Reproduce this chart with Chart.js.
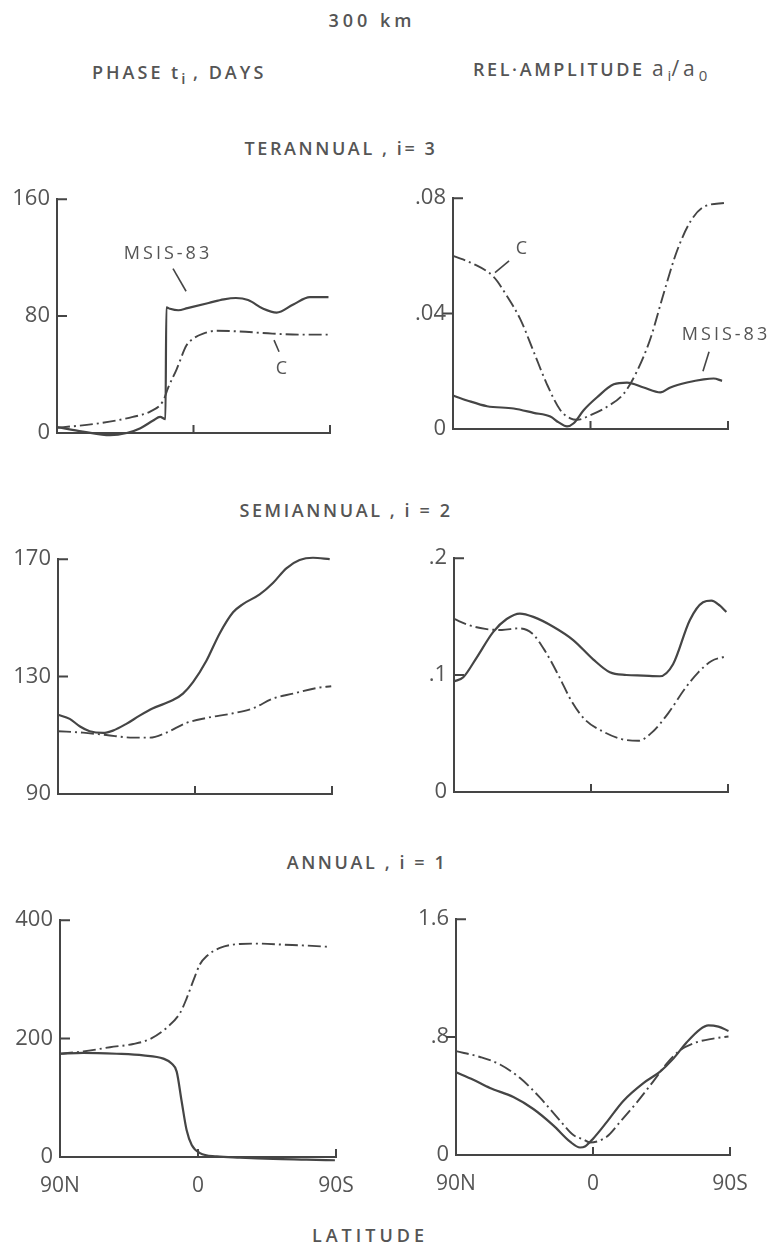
<!DOCTYPE html>
<html>
<head>
<meta charset="utf-8">
<script src="https://cdn.jsdelivr.net/npm/chart.js@4.4.0/dist/chart.umd.min.js"></script>
<style>
body{margin:0;background:#fff;width:770px;height:1250px;position:relative;overflow:hidden;font-family:"Open Sans",sans-serif;color:#555}
.t{position:absolute;font-size:18px;font-weight:600;letter-spacing:2.6px;white-space:nowrap;line-height:20px}
.c{width:400px;text-align:center}
.a{font-size:21px;font-weight:400;letter-spacing:4px}
sub{font-size:15px;letter-spacing:0}
canvas{position:absolute}
</style>
</head>
<body>
<div class="t c" style="left:172px;top:10px;letter-spacing:4px">300 km</div>
<div class="t" style="left:92px;top:62px;letter-spacing:3px">PHASE t<sub>i</sub> , DAYS</div>
<div class="t" style="left:473px;top:58px">REL·AMPLITUDE <span class="a">a<sub>i</sub>/a<sub>0</sub></span></div>
<div class="t c" style="left:141px;top:138px">TERANNUAL , i= 3</div>
<div class="t c" style="left:146px;top:500px">SEMIANNUAL , i = 2</div>
<div class="t c" style="left:167px;top:852px">ANNUAL , i = 1</div>
<div class="t c" style="left:170px;top:1225px;letter-spacing:4px">LATITUDE</div>
<canvas id="p1"></canvas><canvas id="p2"></canvas>
<canvas id="p3"></canvas><canvas id="p4"></canvas>
<canvas id="p5"></canvas><canvas id="p6"></canvas>
<script>
// latitude ticks, 90N left -> 90S right
const latTicks = [90, 0, -90]

// terannual phase (days)
const terPhaseMsisLat = [90, 73, 55, 44, 35, 26.6, 22, 18.5, 17.9, 15.5, 10, 4, -10, -20, -28, -36, -46, -54.8, -65.8, -76.8, -89]
const terPhaseMsis = [4, 1, -1.5, 0, 3.3, 8.5, 11, 9.5, 86, 85, 84, 85.5, 89, 91.5, 92.4, 91, 85, 82.4, 88, 93, 93]
const terPhaseCLat = [90, 62, 40, 28, 20, 16.7, 11.2, 4.6, 0.2, -6.4, -15.2, -30, -52, -70, -89]
const terPhaseC = [3.5, 6.7, 11, 15, 22, 31, 43.4, 60, 64.6, 68, 70, 69.5, 68, 67.3, 67.3]
const terPhaseTicks = [0, 80, 160]

// terannual relative amplitude
const terAmpMsisLat = [90, 80.8, 67.7, 50.3, 37.2, 26.3, 20.8, 15.4, 11, 4.5, -4.3, -15.2, -23.9, -34.8, -45.7, -52.3, -63.2, -74.1, -80.6, -86.1]
const terAmpMsis = [.0116, .0099, .0079, .0071, .0056, .0043, .0023, .0009, .002, .0065, .011, .0155, .0161, .0144, .0127, .0144, .0161, .0172, .0175, .0167]
const terAmpCLat = [90, 76.5, 63.4, 54.6, 45.9, 37.2, 28.5, 19.7, 13.2, 8.8, 0.1, -10.8, -21.7, -30.4, -39.2, -47.9, -56.6, -65.4, -74.1, -88.3]
const terAmpC = [.060, .0572, .0527, .046, .038, .0268, .0155, .0065, .0037, .0032, .0048, .0077, .0122, .020, .0313, .047, .0617, .0719, .077, .0784]
const terAmpTicks = [0, .04, .08]

// semiannual phase (days)
const semiPhaseMsisLat = [90, 82.3, 75.8, 69.2, 60.4, 53.9, 45.1, 36.4, 27.6, 14.5, 7.9, 1.3, -7.4, -16.2, -25, -31.5, -42.5, -51.2, -60, -68.7, -77.5, -88.5]
const semiPhaseMsis = [117, 115.6, 113.1, 111.4, 110.8, 111.6, 113.9, 116.7, 119.2, 122, 124.2, 128.1, 135.3, 144.7, 151.9, 154.7, 158, 161.9, 166.9, 169.7, 170.5, 170]
const semiPhaseCLat = [90, 73.6, 58.3, 40.7, 29.8, 18.8, 5.7, -7.4, -25, -38.1, -51.2, -64.4, -79.7, -89.5]
const semiPhaseC = [111.4, 110.9, 110.1, 109.2, 109.2, 110.9, 114.2, 115.9, 117.5, 119.2, 122.5, 124.2, 126.1, 126.7]
const semiPhaseTicks = [90, 130, 170]

// semiannual relative amplitude
const semiAmpMsisLat = [90, 83.9, 75.1, 64.2, 55.4, 46.7, 37.9, 24.8, 11.7, -1.4, -12.4, -23.3, -34.2, -45.2, -53.9, -64.9, -73.6, -79.1, -84.5, -88.9]
const semiAmpMsis = [.0946, .0982, .115, .137, .148, .1526, .1498, .1414, .130, .1135, .1024, .1001, .0996, .099, .1093, .147, .1623, .1637, .1596, .154]
const semiAmpCLat = [90, 80.4, 69.5, 58.5, 47.6, 38.8, 30.1, 21.3, 12.6, 3.9, -9.3, -20.2, -31.1, -39.9, -50.8, -61.7, -70.5, -79.2, -88]
const semiAmpC = [.148, .1428, .1395, .1386, .140, .1358, .1205, .0996, .0773, .0619, .0508, .0452, .0438, .0508, .0675, .0884, .1024, .1121, .1158]
const semiAmpTicks = [0, .1, .2]

// annual phase (days)
const annPhaseMsisLat = [90, 74.8, 53, 35.7, 22.6, 17.2, 13.9, 10.7, 7.4, 4.1, -1.3, -12.2, -27.4, -49.1, -70.9, -89.3]
const annPhaseMsis = [174.4, 176, 174.4, 171.7, 166.2, 157.9, 144.2, 94.6, 45.1, 20.4, 6.6, 1.1, -1.1, -3.3, -4.4, -5.5]
const annPhaseCLat = [90, 74.8, 57.4, 42.2, 31.3, 20.4, 11.7, 7.4, 3, -1.3, -5.7, -14.3, -27.4, -40.4, -55.7, -70.9, -86.1]
const annPhaseC = [174.4, 178.3, 185.4, 190.9, 199.2, 218.4, 243.2, 268, 298.2, 325.7, 339.5, 353.2, 359.8, 360.4, 358.7, 357.1, 354.9]
const annPhaseTicks = [0, 200, 400]

// annual relative amplitude
const annAmpMsisLat = [90, 78.6, 67.7, 52.3, 39.2, 26.1, 15.1, 8.5, 5.3, -0.2, -9, -19.9, -33.1, -44.1, -52.8, -61.6, -70.3, -75.8, -82.4, -89]
const annAmpMsis = [.561, .510, .455, .393, .312, .201, .0906, .0508, .0575, .1127, .2232, .367, .488, .566, .654, .765, .853, .880, .871, .842]
const annAmpCLat = [90, 74.2, 61.1, 47.9, 34.8, 21.7, 12.9, 6.4, 2, -9, -17.7, -28.7, -39.6, -48.4, -57.1, -68, -79, -89]
const annAmpC = [.705, .665, .614, .522, .389, .234, .135, .106, .085, .124, .223, .356, .5, .62, .71, .765, .79, .804]
const annAmpTicks = [0, .8, 1.6]

const ink = '#454545'
Chart.defaults.font.family = '"Open Sans", sans-serif'
Chart.defaults.color = '#555'

const pairs = (lat, v) => lat.map((x, i) => ({x: x, y: v[i]}))
const latLabel = v => v > 0 ? v + 'N' : v < 0 ? (-v) + 'S' : '0'
const amp = v => v == 0 ? '0' : String(v).replace(/^0/, '')

const axisTicks = {
  id: 'axisTicks',
  afterDraw(chart, args, o) {
    const ctx = chart.ctx, xs = chart.scales.x, ys = chart.scales.y, a = chart.chartArea
    ctx.save()
    ctx.strokeStyle = ink
    ctx.lineWidth = 2
    ctx.beginPath()
    const yt = o.yTicks.slice(1)
    yt.forEach((v, i) => {
      const py = ys.getPixelForValue(v)
      const d = (i == yt.length - 1 || !o.midOut) ? 10 : -10
      ctx.moveTo(a.left, py); ctx.lineTo(a.left + d, py)
    })
    latTicks.slice(1).forEach(v => {
      const px = xs.getPixelForValue(v)
      ctx.moveTo(px, a.bottom); ctx.lineTo(px, a.bottom - 8)
    })
    ctx.stroke()
    ctx.lineWidth = 1.6
    ctx.fillStyle = '#555'
    ctx.font = '18px "Open Sans", sans-serif'
    ctx.letterSpacing = '3px'
    ctx.textAlign = 'center'
    ctx.textBaseline = 'middle'
    ;(o.notes || []).forEach(n => {
      ctx.fillText(n.text, xs.getPixelForValue(n.lat), ys.getPixelForValue(n.v))
      ctx.beginPath()
      ctx.moveTo(xs.getPixelForValue(n.from[0]), ys.getPixelForValue(n.from[1]))
      ctx.lineTo(xs.getPixelForValue(n.to[0]), ys.getPixelForValue(n.to[1]))
      ctx.stroke()
    })
    ctx.restore()
  }
}

function panel(id, area, yTicks, fmt, msis, c, showX, midOut, notes) {
  const L = 57, T = 15, R = 45, B = 45
  const cv = document.getElementById(id)
  const w = area[2] - area[0] + L + R, h = area[3] - area[1] + T + B
  cv.width = w; cv.height = h
  cv.style.width = w + 'px'; cv.style.height = h + 'px'
  cv.style.left = (area[0] - L) + 'px'; cv.style.top = (area[1] - T) + 'px'
  new Chart(cv, {
    type: 'line',
    data: {
      datasets: [
        {data: msis, borderColor: ink, borderWidth: 2.2, pointRadius: 0, cubicInterpolationMode: 'monotone', clip: false},
        {data: c, borderColor: ink, borderWidth: 1.9, borderDash: [13, 4, 2, 4], pointRadius: 0, cubicInterpolationMode: 'monotone', clip: false}
      ]
    },
    options: {
      responsive: false,
      animation: false,
      layout: {padding: {left: 0, right: R, top: T, bottom: 0}},
      plugins: {legend: {display: false}, tooltip: {enabled: false}, axisTicks: {yTicks: yTicks, midOut: midOut, notes: notes}},
      scales: {
        x: {
          type: 'linear', min: -90, max: 90, reverse: true,
          afterBuildTicks: s => { s.ticks = latTicks.map(v => ({value: v})) },
          afterFit: s => { s.height = B },
          grid: {display: false, drawTicks: false},
          border: {color: ink, width: 2},
          ticks: {display: showX, callback: latLabel, padding: 16, maxRotation: 0, autoSkip: false, font: {size: 21}}
        },
        y: {
          min: yTicks[0], max: yTicks[2],
          afterBuildTicks: s => { s.ticks = yTicks.map(v => ({value: v})) },
          afterFit: s => { s.width = L },
          grid: {display: false, drawTicks: false},
          border: {color: ink, width: 2},
          ticks: {callback: fmt, padding: 7, font: {size: 22}}
        }
      }
    },
    plugins: [axisTicks]
  })
}

panel('p1', [57, 194, 330, 433], terPhaseTicks, v => String(v), pairs(terPhaseMsisLat, terPhaseMsis), pairs(terPhaseCLat, terPhaseC), false, false, [
  {text: 'MSIS-83', lat: 16.8, v: 122.5, from: [13.5, 112.5], to: [4.9, 97]},
  {text: 'C', lat: -59, v: 44.2, from: [-53.1, 63.6], to: [-56.4, 55.6]}
])
panel('p2', [453, 193, 728, 429], terAmpTicks, amp, pairs(terAmpMsisLat, terAmpMsis), pairs(terAmpCLat, terAmpC), false, true, [
  {text: 'C', lat: 44.2, v: .0624, from: [62.5, .0542], to: [53.3, .0583]},
  {text: 'MSIS-83', lat: -88.7, v: .0325, from: [-77.6, .0268], to: [-73.6, .02]}
])
panel('p3', [58, 554, 332, 794], semiPhaseTicks, v => String(v), pairs(semiPhaseMsisLat, semiPhaseMsis), pairs(semiPhaseCLat, semiPhaseC), false, false, [])
panel('p4', [454, 553, 728, 792], semiAmpTicks, amp, pairs(semiAmpMsisLat, semiAmpMsis), pairs(semiAmpCLat, semiAmpC), false, false, [])
panel('p5', [60, 915, 336, 1157], annPhaseTicks, v => String(v), pairs(annPhaseMsisLat, annPhaseMsis), pairs(annPhaseCLat, annPhaseC), true, false, [])
panel('p6', [456, 914, 730, 1155], annAmpTicks, amp, pairs(annAmpMsisLat, annAmpMsis), pairs(annAmpCLat, annAmpC), true, true, [])
</script>
</body>
</html>
